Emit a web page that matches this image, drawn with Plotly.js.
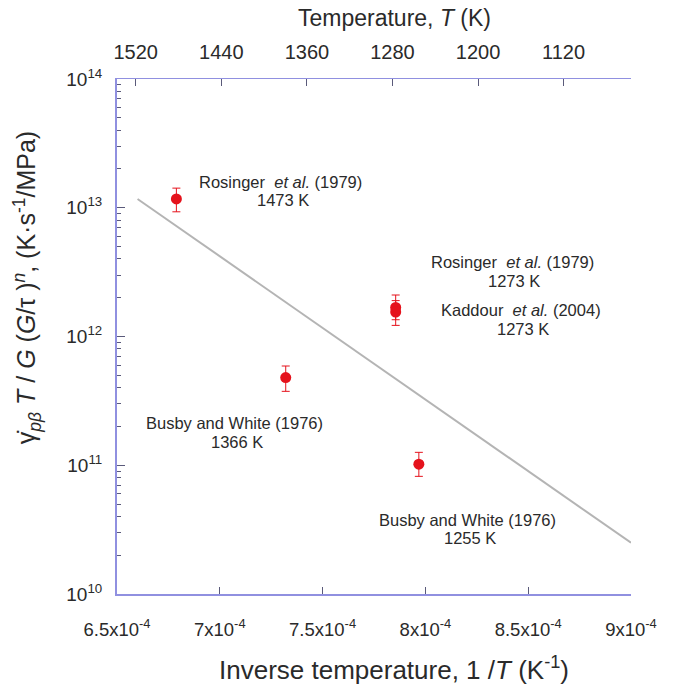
<!DOCTYPE html>
<html>
<head>
<meta charset="utf-8">
<script src="https://cdn.plot.ly/plotly-3.0.1.min.js"></script>
<style>
  html, body { margin: 0; padding: 0; background: #fff; }
  #chart { width: 673px; height: 692px; }
</style>
</head>
<body>
<div id="chart"></div>
<script>
// Measured points: inverse temperature (1/K) and normalised rate
const sources   = ['Rosinger 1979', 'Busby and White 1976', 'Rosinger 1979', 'Kaddour 2004', 'Busby and White 1976'];
const tempK     = [1473, 1366, 1273, 1273, 1255];
const rate      = [1.17e13, 4.8e11, 1.68e12, 1.55e12, 1.02e11];
const rateHigh  = [1.42e13, 5.9e11, 2.10e12, 1.90e12, 1.26e11];
const rateLow   = [9.3e12, 3.75e11, 1.35e12, 1.22e12, 8.2e10];

// Fitted Arrhenius line (end points)
const fitInvT   = [6.60e-4, 9.0e-4];
const fitRate   = [1.17e13, 2.5e10];

// Axis ticks
const invTTicks = [6.5e-4, 7e-4, 7.5e-4, 8e-4, 8.5e-4, 9e-4];
const invTText  = ['6.5x10<sup>-4</sup>', '7x10<sup>-4</sup>', '7.5x10<sup>-4</sup>', '8x10<sup>-4</sup>', '8.5x10<sup>-4</sup>', '9x10<sup>-4</sup>'];
const tempTicks = [1520, 1440, 1360, 1280, 1200, 1120];
const rateTicks = [1e10, 1e11, 1e12, 1e13, 1e14];
const rateText  = ['10<sup>10</sup>', '10<sup>11</sup>', '10<sup>12</sup>', '10<sup>13</sup>', '10<sup>14</sup>'];

// Point labels (two lines each)
const labelTop    = ['Rosinger  <i>et al.</i> (1979)', 'Busby and White (1976)', 'Rosinger  <i>et al.</i> (1979)', 'Kaddour  <i>et al.</i> (2004)', 'Busby and White (1976)'];
const labelBottom = ['1473 K', '1366 K', '1273 K', '1273 K', '1255 K'];

const invT = tempK.map(t => 1 / t);
const errPlus  = rate.map((v, i) => rateHigh[i] - v);
const errMinus = rate.map((v, i) => v - rateLow[i]);

// minor log ticks 2..9 per decade
const minorVals = [];
for (let e = 10; e < 14; e++) for (let m = 2; m <= 9; m++) minorVals.push(m * Math.pow(10, e));

const FONT = 'Liberation Sans, Arial, Helvetica, sans-serif';
const AXIS_BLUE = '#9090e0';
const TICK_COL = '#5a5a7a';
const TEXT_COL = '#2a2a2a';

const traces = [
  {
    x: fitInvT, y: fitRate, type: 'scatter', mode: 'lines',
    line: { color: '#b4b4b4', width: 2 }, hoverinfo: 'skip', showlegend: false
  },
  {
    x: invT, y: rate, type: 'scatter', mode: 'markers', text: sources,
    marker: { color: '#e5121c', size: 11 },
    error_y: { type: 'data', symmetric: false, array: errPlus, arrayminus: errMinus,
               color: '#e5121c', thickness: 1, width: 4 },
    showlegend: false
  },
  // carries the linear temperature scale on top
  {
    x: [1520, 1120], y: [1e12, 1e12], xaxis: 'x2', yaxis: 'y', type: 'scatter',
    mode: 'markers', marker: { opacity: 0 }, hoverinfo: 'skip', showlegend: false
  }
];

// Label placement (paper coordinates: centre x, centre y of the two-line block)
const labelPos = [
  [0.318, 0.783],
  [0.229, 0.3136],
  [0.769, 0.626],
  [0.786, 0.533],
  [0.682, 0.1268]
];
const HALF_GAP = 0.0178;

const annotations = [];
labelTop.forEach((t, i) => {
  annotations.push({ text: t, xref: 'paper', yref: 'paper', x: labelPos[i][0], y: labelPos[i][1] + HALF_GAP,
    xanchor: 'center', yanchor: 'middle', showarrow: false, font: { family: FONT, size: 16.5, color: TEXT_COL } });
  annotations.push({ text: labelBottom[i], xref: 'paper', yref: 'paper', x: labelPos[i][0] + 0.004, y: labelPos[i][1] - HALF_GAP,
    xanchor: 'center', yanchor: 'middle', showarrow: false, font: { family: FONT, size: 16.5, color: TEXT_COL } });
});

// Axis titles
annotations.push({ text: 'Temperature, <i>T</i> (K)', xref: 'paper', yref: 'paper', x: 0.539, y: 1.118,
  xanchor: 'center', yanchor: 'middle', showarrow: false, font: { family: FONT, size: 23, color: TEXT_COL } });
annotations.push({ text: 'Inverse temperature, 1 /<i>T</i> (K<sup>-1</sup>)', xref: 'paper', yref: 'paper', x: 0.538, y: -0.144,
  xanchor: 'center', yanchor: 'middle', showarrow: false, font: { family: FONT, size: 26, color: TEXT_COL } });
annotations.push({ text: 'γ\u0307<sub><i>pβ</i></sub> <i>T</i> / <i>G</i> (<i>G</i>/τ )<sup><i>n</i></sup>, (K·s<sup>-1</sup>/MPa)',
  xref: 'paper', yref: 'paper', x: -0.175, y: 0.594, textangle: -90,
  xanchor: 'center', yanchor: 'middle', showarrow: false, font: { family: FONT, size: 25, color: TEXT_COL } });

const layout = {
  width: 673, height: 692,
  margin: { l: 117, r: 42, t: 79, b: 98 },
  paper_bgcolor: '#ffffff', plot_bgcolor: '#ffffff',
  font: { family: FONT, color: TEXT_COL },
  showlegend: false,
  xaxis: {
    range: [6.5e-4, 9.0e-4], tickmode: 'array', tickvals: invTTicks, ticktext: invTText,
    ticks: 'inside', ticklen: 7, tickwidth: 1, tickcolor: TICK_COL,
    showline: true, linecolor: AXIS_BLUE, linewidth: 1.5, mirror: false,
    showgrid: false, zeroline: false, ticklabelstandoff: 18,
    tickfont: { family: FONT, size: 18.5, color: TEXT_COL }
  },
  xaxis2: {
    overlaying: 'x', side: 'top', range: [1537.5, 1057], tickmode: 'array', tickvals: tempTicks,
    ticks: 'inside', ticklen: 7, tickwidth: 1, tickcolor: TICK_COL,
    showline: true, linecolor: AXIS_BLUE, linewidth: 1.5,
    showgrid: false, zeroline: false, ticklabelstandoff: 11,
    tickfont: { family: FONT, size: 20, color: TEXT_COL }
  },
  yaxis: {
    type: 'log', range: [10, 14], tickmode: 'array', tickvals: rateTicks, ticktext: rateText,
    ticks: 'inside', ticklen: 8, tickwidth: 1, tickcolor: TICK_COL,
    minor: { tickmode: 'array', tickvals: minorVals, ticks: 'inside', ticklen: 4, tickcolor: TICK_COL, showgrid: false },
    showline: true, linecolor: AXIS_BLUE, linewidth: 2, mirror: false,
    showgrid: false, zeroline: false, ticklabelstandoff: 9,
    tickfont: { family: FONT, size: 19, color: TEXT_COL }
  },
  annotations: annotations
};

Plotly.newPlot('chart', traces, layout, { staticPlot: true, displayModeBar: false });
</script>
</body>
</html>
